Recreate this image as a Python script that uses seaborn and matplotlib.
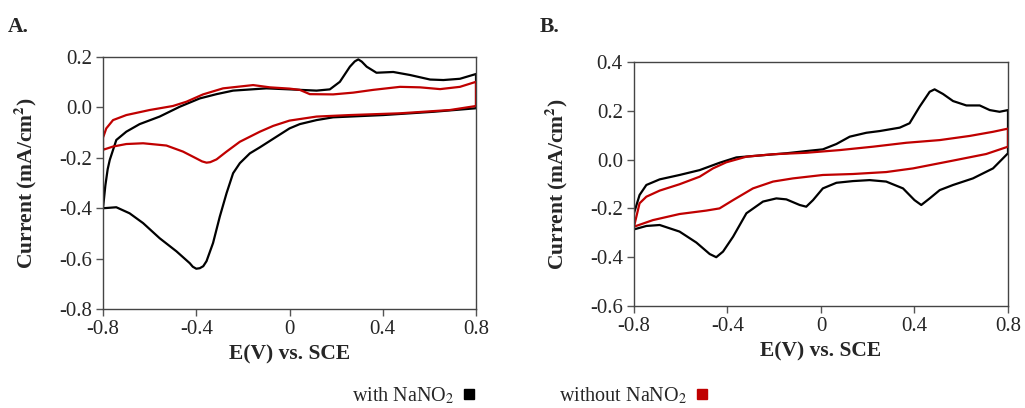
import numpy as np
import pandas as pd
import matplotlib
matplotlib.use("Agg")
import matplotlib.pyplot as plt
import seaborn as sns
from matplotlib.lines import Line2D

# Panel A, with NaNO2 (closed CV loop)
a_with_e = [-0.80, -0.79, -0.78, -0.771, -0.743, -0.70, -0.643, -0.557, -0.471, -0.385, -0.313, -0.242, -0.099, 0.0,
            0.116, 0.173, 0.216, 0.259, 0.28, 0.295, 0.31, 0.331, 0.373, 0.445, 0.517, 0.603, 0.66, 0.731, 0.80,
            0.80, 0.617, 0.402, 0.187, 0.116, 0.044, 0.0, -0.056, -0.127, -0.170, -0.213, -0.242, -0.270,
            -0.299, -0.328, -0.356, -0.37, -0.385, -0.40, -0.415, -0.428, -0.485, -0.557, -0.628, -0.686,
            -0.743, -0.80]
a_with_i = [-0.40, -0.31, -0.245, -0.208, -0.129, -0.096, -0.066, -0.036, 0.003, 0.036, 0.053, 0.067, 0.076, 0.072,
            0.067, 0.072, 0.102, 0.162, 0.183, 0.191, 0.182, 0.162, 0.138, 0.141, 0.129, 0.111, 0.109, 0.114, 0.133,
            -0.003, -0.017, -0.030, -0.039, -0.050, -0.066, -0.083, -0.116, -0.158, -0.182, -0.221, -0.261, -0.340,
            -0.433, -0.538, -0.610, -0.630, -0.638, -0.640, -0.632, -0.618, -0.571, -0.519, -0.459, -0.420,
            -0.396, -0.40]

# Panel A, without NaNO2
a_without_e = [-0.80, -0.80, -0.786, -0.757, -0.70, -0.60, -0.50, -0.442, -0.371, -0.285, -0.156, -0.084, 0.0,
               0.044, 0.087, 0.187, 0.273, 0.359, 0.474, 0.56, 0.646, 0.731, 0.80,
               0.80, 0.688, 0.474, 0.259, 0.116, 0.0, -0.070, -0.127, -0.213, -0.270, -0.313, -0.34, -0.356,
               -0.375, -0.40, -0.457, -0.528, -0.628, -0.70, -0.757, -0.80]
a_without_i = [-0.168, -0.12, -0.083, -0.050, -0.030, -0.010, 0.006, 0.023, 0.052, 0.076, 0.089, 0.080, 0.075,
               0.070, 0.053, 0.052, 0.059, 0.070, 0.082, 0.080, 0.073, 0.082, 0.102,
               0.006, -0.010, -0.023, -0.030, -0.036, -0.052, -0.073, -0.096, -0.136, -0.175, -0.206, -0.217, -0.219,
               -0.214, -0.202, -0.175, -0.151, -0.142, -0.145, -0.155, -0.168]

# Panel B, with NaNO2
b_with_e = [-0.80, -0.776, -0.747, -0.69, -0.605, -0.519, -0.434, -0.362, -0.262, -0.148, -0.063, 0.008,
            0.066, 0.123, 0.194, 0.251, 0.337, 0.379, 0.422, 0.465, 0.486, 0.522, 0.565, 0.622, 0.679,
            0.722, 0.764, 0.80,
            0.80, 0.736, 0.65, 0.565, 0.508, 0.465, 0.429, 0.40, 0.351, 0.279, 0.208, 0.137, 0.066, 0.008,
            -0.034, -0.063, -0.091, -0.148, -0.191, -0.248, -0.319, -0.376, -0.419, -0.448, -0.476, -0.533,
            -0.605, -0.69, -0.747, -0.80, -0.80]
b_with_i = [-0.22, -0.145, -0.104, -0.081, -0.063, -0.043, -0.013, 0.009, 0.017, 0.026, 0.035, 0.042,
            0.064, 0.094, 0.110, 0.117, 0.131, 0.149, 0.217, 0.278, 0.288, 0.269, 0.240, 0.222, 0.222,
            0.203, 0.196, 0.203,
            0.026, -0.036, -0.077, -0.104, -0.125, -0.159, -0.186, -0.166, -0.118, -0.090, -0.084, -0.088, -0.095, -0.118,
            -0.166, -0.193, -0.186, -0.163, -0.159, -0.172, -0.220, -0.316, -0.377, -0.400, -0.387, -0.340,
            -0.295, -0.268, -0.272, -0.286, -0.22]

# Panel B, without NaNO2
b_without_e = [-0.80, -0.776, -0.747, -0.69, -0.605, -0.519, -0.462, -0.405, -0.319, -0.205, -0.063, 0.08,
               0.223, 0.365, 0.508, 0.636, 0.736, 0.80,
               0.80, 0.707, 0.565, 0.394, 0.279, 0.137, 0.008, -0.12, -0.205, -0.291, -0.376, -0.434,
               -0.491, -0.605, -0.719, -0.80]
b_without_i = [-0.275, -0.179, -0.152, -0.127, -0.101, -0.070, -0.036, -0.011, 0.012, 0.022, 0.028, 0.039,
               0.053, 0.069, 0.080, 0.097, 0.114, 0.127,
               0.053, 0.023, -0.004, -0.036, -0.051, -0.059, -0.063, -0.077, -0.090, -0.118, -0.166, -0.200,
               -0.209, -0.223, -0.248, -0.275]

x_ticks = [-0.8, -0.4, 0, 0.4, 0.8]
x_labels = ["-0.8", "-0.4", "0", "0.4", "0.8"]
a_yticks = [-0.8, -0.6, -0.4, -0.2, 0.0, 0.2]
b_yticks = [-0.6, -0.4, -0.2, 0.0, 0.2, 0.4]

colors = {"with": "#000000", "without": "#C00000"}

sns.set_style("white")
plt.rcParams["font.family"] = ["Liberation Serif", "DejaVu Sans"]
plt.rcParams["mathtext.fontset"] = "stix"
plt.rcParams["axes.unicode_minus"] = False


def make_df(e_with, i_with, e_without, i_without):
    d1 = pd.DataFrame({"E": e_with, "I": i_with, "cond": "with"})
    d2 = pd.DataFrame({"E": e_without, "I": i_without, "cond": "without"})
    return pd.concat([d1, d2], ignore_index=True)


df_a = make_df(a_with_e, a_with_i, a_without_e, a_without_i)
df_b = make_df(b_with_e, b_with_i, b_without_e, b_without_i)

fig = plt.figure(figsize=(10.25, 4.08), dpi=100)
ax_a = fig.add_axes([0.1005, 0.2426, 0.3639, 0.6174])
ax_b = fig.add_axes([0.6185, 0.25, 0.3649, 0.598])

for ax, df, yticks in ((ax_a, df_a, a_yticks), (ax_b, df_b, b_yticks)):
    for cond in ("with", "without"):
        sub = df[df["cond"] == cond]
        sns.lineplot(data=sub, x="E", y="I", sort=False, estimator=None,
                     color=colors[cond], linewidth=1.6, ax=ax, legend=False)
    ax.set_xlim(-0.8, 0.8)
    ax.set_ylim(yticks[0], yticks[-1])
    ax.set_xticks(x_ticks)
    ax.set_xticklabels(x_labels)
    ax.set_yticks(yticks)
    ax.set_yticklabels(["%.1f" % v for v in yticks])
    ax.tick_params(axis="both", direction="out", length=5, width=1, color="#555555",
                   labelsize=15, left=True, bottom=True, pad=3)
    for sp in ax.spines.values():
        sp.set_color("#444444")
        sp.set_linewidth(1)
    ax.set_xlabel("E(V) vs. SCE", fontsize=15.5, fontweight="bold", labelpad=4)
    ax.set_ylabel("Current (mA/cm$^{\\mathbf{2}}$)", fontsize=15.5, fontweight="bold", labelpad=14)

fig.text(0.008, 0.935, "A.", fontsize=15.5, fontweight="bold", va="center")
fig.text(0.527, 0.935, "B.", fontsize=15.5, fontweight="bold", va="center")

handles = [Line2D([], [], marker="s", linestyle="none", color=colors["with"], markersize=6.5),
           Line2D([], [], marker="s", linestyle="none", color=colors["without"], markersize=6.5)]
fig.legend(handles, ["with NaNO$_2$", "without NaNO$_2$"], loc="center", bbox_to_anchor=(0.518, 0.03),
           ncol=2, frameon=False, markerfirst=False, fontsize=14.5, handlelength=0.8,
           handletextpad=0.3, columnspacing=4.1)

fig.savefig("out.png", dpi=100)
